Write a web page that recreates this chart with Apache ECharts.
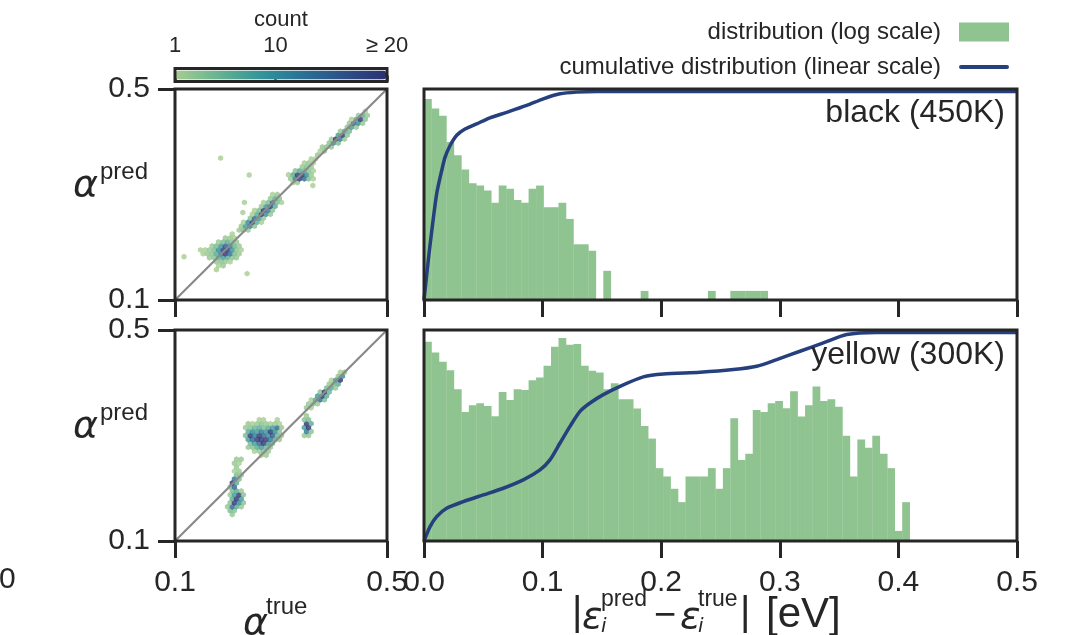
<!DOCTYPE html>
<html lang="en">
<head>
<meta charset="UTF-8">
<title>alpha parity and error distributions</title>
<style>
  html, body { margin: 0; padding: 0; background: #fff; }
  #chart { width: 1083px; height: 635px; }
</style>
</head>
<body>
<div id="chart"></div>
<script src="https://cdn.jsdelivr.net/npm/echarts@6/dist/echarts.min.js"></script>
<script>
const FONT = 'Liberation Sans, Arial, sans-serif';
const MATH = 'DejaVu Sans, sans-serif';
const INK = '#262626';
const GREEN = '#8fc390';
const NAVY = '#263f7d';
const crest = ['#a5cd90', '#79bb90', '#4fa693', '#31909a', '#2a7796', '#2a5f8e', '#2d4683', '#2c3172'];

const HIST = 'distribution (log scale)';
const CUM = 'cumulative distribution (linear scale)';

// axes
const alphaTicks = [0.1, 0.5];
const diagonal = [0.1, 0.5];
const countTicks = [1, 10, 20];

// histogram of |error| (bins of 0.0063 eV starting at 0)
const binWidth = 0.0063;
const blackCounts = [753, 545, 422, 171, 108, 66, 41, 38, 32, 21, 38, 34, 23, 21, 34, 38, 18, 18, 21, 12,
  5, 5, 4, 0, 2, 0, 0, 0, 0, 1, 0, 0, 0, 0, 0, 0, 0, 0, 1, 0, 0, 1, 1, 1, 1, 1];
const yellowCounts = [1376, 915, 640, 464, 224, 94, 121, 131, 118, 80, 202, 149, 224, 218, 316, 350, 548, 1137, 1585, 1227,
  1259, 548, 452, 424, 224, 282, 153, 153, 107, 55, 34, 11, 8, 5, 3, 8, 8, 8, 11, 5,
  11, 74, 15, 19, 101, 94, 131, 143, 108, 207, 79, 121, 248, 143, 153, 115, 38, 8, 33, 24,
  38, 19, 11, 1, 3];

// cumulative distribution
const blackCumE = [0, 0.0036, 0.0065, 0.0107, 0.0149, 0.0177, 0.0219, 0.0276, 0.0346, 0.0444, 0.0556, 0.0697, 0.0866, 0.1006, 0.1147, 0.1287, 0.146, 0.5];
const blackCumF = [0, 0.19, 0.33, 0.51, 0.62, 0.684, 0.74, 0.79, 0.82, 0.845, 0.874, 0.90, 0.933, 0.965, 0.989, 0.997, 1.0, 1.0];
const yellowCumE = [0, 0.0051, 0.0107, 0.0191, 0.0331, 0.05, 0.0669, 0.0837, 0.0978, 0.1062, 0.1147, 0.1231, 0.1315, 0.14, 0.1512, 0.1653, 0.1849, 0.2018, 0.2327, 0.2608, 0.2805, 0.2974, 0.317, 0.3367, 0.3564, 0.3817, 0.5];
const yellowCumF = [0, 0.069, 0.117, 0.157, 0.189, 0.221, 0.253, 0.293, 0.341, 0.389, 0.47, 0.55, 0.622, 0.662, 0.702, 0.742, 0.787, 0.801, 0.809, 0.822, 0.838, 0.87, 0.91, 0.95, 0.99, 1.0, 1.0];

// hexbin cells [alpha_true, alpha_pred, count]
const blackCells = [
  [0.165, 0.180, 2], [0.174, 0.180, 3], [0.182, 0.180, 5], [0.191, 0.180, 8], [0.199, 0.180, 6], [0.208, 0.180, 3], [0.216, 0.180, 2],
  [0.153, 0.1875, 1], [0.161, 0.1875, 2], [0.170, 0.1875, 3], [0.178, 0.1875, 6], [0.187, 0.1875, 12], [0.195, 0.1875, 20], [0.204, 0.1875, 14], [0.212, 0.1875, 4], [0.221, 0.1875, 2],
  [0.148, 0.195, 1], [0.157, 0.195, 1], [0.165, 0.195, 2], [0.174, 0.195, 4], [0.182, 0.195, 10], [0.191, 0.195, 20], [0.199, 0.195, 20], [0.208, 0.195, 9], [0.216, 0.195, 3], [0.225, 0.195, 1],
  [0.170, 0.2025, 2], [0.178, 0.2025, 4], [0.187, 0.2025, 9], [0.195, 0.2025, 16], [0.204, 0.2025, 12], [0.212, 0.2025, 5], [0.221, 0.2025, 2],
  [0.182, 0.210, 2], [0.191, 0.210, 4], [0.199, 0.210, 6], [0.208, 0.210, 3], [0.216, 0.210, 2],
  [0.195, 0.2175, 2], [0.204, 0.2175, 2], [0.212, 0.2175, 1], [0.208, 0.225, 1],
  [0.178, 0.1725, 2], [0.187, 0.1725, 3], [0.195, 0.1725, 2], [0.204, 0.1725, 1],
  [0.182, 0.165, 1], [0.191, 0.165, 2], [0.178, 0.1575, 1],
  [0.221, 0.2325, 2], [0.229, 0.2325, 3], [0.238, 0.2325, 2],
  [0.225, 0.240, 2], [0.233, 0.240, 8], [0.242, 0.240, 12], [0.250, 0.240, 3],
  [0.229, 0.2475, 1], [0.238, 0.2475, 10], [0.246, 0.2475, 20], [0.255, 0.2475, 6], [0.263, 0.2475, 1],
  [0.242, 0.255, 3], [0.250, 0.255, 14], [0.259, 0.255, 8], [0.267, 0.255, 2],
  [0.246, 0.2625, 1], [0.255, 0.2625, 6], [0.263, 0.2625, 20], [0.272, 0.2625, 10], [0.280, 0.2625, 2],
  [0.250, 0.270, 1], [0.259, 0.270, 4], [0.267, 0.270, 20], [0.276, 0.270, 12], [0.284, 0.270, 3],
  [0.263, 0.2775, 2], [0.272, 0.2775, 9], [0.280, 0.2775, 20], [0.289, 0.2775, 6],
  [0.267, 0.285, 1], [0.276, 0.285, 4], [0.284, 0.285, 14], [0.293, 0.285, 4], [0.301, 0.285, 1],
  [0.280, 0.2925, 2], [0.289, 0.2925, 6], [0.297, 0.2925, 3], [0.284, 0.300, 1], [0.293, 0.300, 2],
  [0.231, 0.285, 1], [0.228, 0.266, 1], [0.236, 0.150, 1], [0.186, 0.369, 1], [0.240, 0.337, 1], [0.117, 0.182, 1], [0.360, 0.317, 1],
  [0.323, 0.3225, 1], [0.331, 0.3225, 2],
  [0.318, 0.330, 2], [0.327, 0.330, 12], [0.335, 0.330, 20], [0.344, 0.330, 14], [0.352, 0.330, 4], [0.361, 0.330, 1],
  [0.314, 0.3375, 1], [0.323, 0.3375, 6], [0.331, 0.3375, 20], [0.340, 0.3375, 20], [0.348, 0.3375, 10], [0.357, 0.3375, 2],
  [0.327, 0.345, 3], [0.335, 0.345, 6], [0.344, 0.345, 5], [0.352, 0.345, 3], [0.361, 0.345, 1],
  [0.340, 0.3525, 2], [0.348, 0.3525, 3], [0.357, 0.3525, 2],
  [0.344, 0.360, 1], [0.352, 0.360, 2], [0.361, 0.360, 1], [0.357, 0.3675, 1], [0.365, 0.3675, 1], [0.369, 0.375, 2],
  [0.374, 0.3825, 1], [0.382, 0.3825, 2],
  [0.378, 0.390, 2], [0.386, 0.390, 3], [0.395, 0.390, 2],
  [0.391, 0.3975, 3], [0.399, 0.3975, 10], [0.408, 0.3975, 4],
  [0.395, 0.405, 2], [0.403, 0.405, 20], [0.412, 0.405, 12], [0.420, 0.405, 2],
  [0.408, 0.4125, 8], [0.416, 0.4125, 20], [0.425, 0.4125, 3],
  [0.412, 0.420, 2], [0.420, 0.420, 6], [0.429, 0.420, 4],
  [0.425, 0.4275, 3], [0.433, 0.4275, 8], [0.442, 0.4275, 2],
  [0.429, 0.435, 2], [0.437, 0.435, 14], [0.446, 0.435, 10], [0.454, 0.435, 2],
  [0.433, 0.4425, 1], [0.442, 0.4425, 6], [0.450, 0.4425, 20], [0.459, 0.4425, 3],
  [0.446, 0.450, 2], [0.454, 0.450, 6], [0.463, 0.450, 2], [0.459, 0.4575, 1]
];
const yellowCells = [
  [0.208, 0.150, 2], [0.204, 0.1575, 4], [0.212, 0.1575, 3],
  [0.199, 0.165, 2], [0.208, 0.165, 14], [0.216, 0.165, 6], [0.225, 0.165, 2],
  [0.204, 0.1725, 3], [0.212, 0.1725, 20], [0.221, 0.1725, 10], [0.229, 0.1725, 3],
  [0.208, 0.180, 6], [0.216, 0.180, 20], [0.225, 0.180, 8],
  [0.204, 0.1875, 2], [0.212, 0.1875, 8], [0.221, 0.1875, 20], [0.229, 0.1875, 3],
  [0.208, 0.195, 4], [0.216, 0.195, 6], [0.225, 0.195, 2],
  [0.204, 0.2025, 3], [0.212, 0.2025, 14], [0.208, 0.210, 20], [0.216, 0.210, 6],
  [0.212, 0.2175, 12], [0.221, 0.2175, 4], [0.216, 0.225, 4], [0.225, 0.225, 2],
  [0.212, 0.2325, 1], [0.221, 0.2325, 2], [0.216, 0.240, 2], [0.212, 0.2475, 2], [0.221, 0.2475, 1],
  [0.216, 0.255, 2], [0.225, 0.255, 2],
  [0.263, 0.2625, 1], [0.272, 0.2625, 2],
  [0.250, 0.270, 1], [0.259, 0.270, 2], [0.267, 0.270, 3], [0.276, 0.270, 2],
  [0.238, 0.2775, 2], [0.246, 0.2775, 3], [0.255, 0.2775, 6], [0.263, 0.2775, 8], [0.272, 0.2775, 5], [0.280, 0.2775, 2],
  [0.242, 0.285, 4], [0.250, 0.285, 8], [0.259, 0.285, 14], [0.267, 0.285, 20], [0.276, 0.285, 8], [0.284, 0.285, 4],
  [0.238, 0.2925, 8], [0.246, 0.2925, 14], [0.255, 0.2925, 20], [0.263, 0.2925, 20], [0.272, 0.2925, 20], [0.280, 0.2925, 12], [0.289, 0.2925, 6], [0.297, 0.2925, 2],
  [0.233, 0.300, 4], [0.242, 0.300, 20], [0.250, 0.300, 12], [0.259, 0.300, 20], [0.267, 0.300, 14], [0.276, 0.300, 10], [0.284, 0.300, 16], [0.293, 0.300, 5], [0.301, 0.300, 2],
  [0.238, 0.3075, 6], [0.246, 0.3075, 10], [0.255, 0.3075, 8], [0.263, 0.3075, 12], [0.272, 0.3075, 9], [0.280, 0.3075, 20], [0.289, 0.3075, 10], [0.297, 0.3075, 3],
  [0.233, 0.315, 2], [0.242, 0.315, 3], [0.250, 0.315, 5], [0.259, 0.315, 6], [0.267, 0.315, 4], [0.276, 0.315, 6], [0.284, 0.315, 8], [0.293, 0.315, 14], [0.301, 0.315, 2],
  [0.238, 0.3225, 2], [0.246, 0.3225, 1], [0.255, 0.3225, 2], [0.263, 0.3225, 3], [0.272, 0.3225, 2], [0.280, 0.3225, 1], [0.289, 0.3225, 2], [0.297, 0.3225, 1],
  [0.259, 0.330, 1], [0.267, 0.330, 1], [0.293, 0.330, 1],
  [0.344, 0.300, 2], [0.352, 0.300, 2], [0.348, 0.3075, 12], [0.357, 0.3075, 3],
  [0.344, 0.315, 8], [0.352, 0.315, 20], [0.348, 0.3225, 20], [0.357, 0.3225, 6],
  [0.344, 0.330, 3], [0.352, 0.330, 4], [0.348, 0.3375, 2],
  [0.348, 0.3525, 2], [0.357, 0.3525, 1],
  [0.352, 0.360, 2], [0.361, 0.360, 3], [0.369, 0.360, 2],
  [0.357, 0.3675, 1], [0.365, 0.3675, 6], [0.374, 0.3675, 14], [0.382, 0.3675, 4],
  [0.369, 0.375, 8], [0.378, 0.375, 20], [0.386, 0.375, 6],
  [0.374, 0.3825, 3], [0.382, 0.3825, 20], [0.391, 0.3825, 5],
  [0.386, 0.390, 4], [0.395, 0.390, 6], [0.403, 0.390, 2],
  [0.391, 0.3975, 2], [0.399, 0.3975, 4], [0.408, 0.3975, 6],
  [0.395, 0.405, 1], [0.403, 0.405, 8], [0.412, 0.405, 20],
  [0.408, 0.4125, 3], [0.416, 0.4125, 10], [0.412, 0.420, 1], [0.420, 0.420, 2]
];

function binRows(counts) {
  return counts.map((c, i) => [i * binWidth, (i + 1) * binWidth, c]).filter(d => d[2] > 0);
}
function pairs(xs, ys) {
  return xs.map((x, i) => [x, ys[i]]);
}

const HEX = 'path://M0,-1L0.866,-0.5L0.866,0.5L0,1L-0.866,0.5L-0.866,-0.5Z';

const L = 175, LW = 212, R = 424, RW = 593, T1 = 89, T2 = 330, H = 211;

const gridBase = { show: true, borderColor: INK, borderWidth: 3, backgroundColor: 'transparent', z: 5 };
const grids = [
  { left: L, top: T1, width: LW, height: H },
  { left: L, top: T2, width: LW, height: H },
  { left: R, top: T1, width: RW, height: H },
  { left: R, top: T2, width: RW, height: H },
  { left: 175, top: 68.5, width: 212, height: 13, borderWidth: 3 }
].map(g => Object.assign({}, gridBase, g));

const tick = { show: true, length: 17, lineStyle: { color: INK, width: 3 } };
const label = { color: INK, fontFamily: FONT, fontSize: 30 };

function alphaX(gridIndex, showLabel) {
  return {
    type: 'value', gridIndex, min: 0.1, max: 0.5,
    axisLine: { show: false }, splitLine: { show: false },
    axisTick: Object.assign({ customValues: alphaTicks }, tick),
    axisLabel: Object.assign({ show: showLabel, customValues: alphaTicks, margin: 27, formatter: v => v.toFixed(1) }, label)
  };
}
function alphaY(gridIndex) {
  return {
    type: 'value', gridIndex, min: 0.1, max: 0.5,
    axisLine: { show: false }, splitLine: { show: false },
    axisTick: Object.assign({ customValues: alphaTicks }, tick),
    axisLabel: Object.assign({ customValues: alphaTicks, margin: 25, formatter: v => v.toFixed(1) }, label)
  };
}
function errX(gridIndex, showLabel) {
  return {
    type: 'value', gridIndex, min: 0, max: 0.5, interval: 0.1,
    axisLine: { show: false }, splitLine: { show: false },
    axisTick: tick,
    axisLabel: Object.assign({ show: showLabel, margin: 27, formatter: v => v.toFixed(1) }, label)
  };
}

function histRender(params, api) {
  const c = api.value(2);
  const p0 = api.coord([api.value(0), c]);
  const p1 = api.coord([api.value(1), c]);
  const base = params.coordSys.y + params.coordSys.height;
  return {
    type: 'rect',
    shape: { x: p0[0], y: p0[1], width: p1[0] - p0[0] + 0.3, height: base - p0[1] },
    style: { fill: GREEN }
  };
}

function txt(x, y, s, size, extra) {
  return {
    type: 'text', x, y, z: 10,
    style: Object.assign({ text: s, fontSize: size, fontFamily: FONT, fill: INK, align: 'left', verticalAlign: 'middle' }, extra || {})
  };
}
const it = { fontFamily: MATH, fontStyle: 'italic' };

const chart = echarts.init(document.getElementById('chart'));
chart.setOption({
  animation: false,
  backgroundColor: '#fff',
  grid: grids,
  xAxis: [
    alphaX(0, false), alphaX(1, true), errX(2, false), errX(3, true),
    {
      type: 'value', gridIndex: 4, min: 1, max: 20, position: 'top',
      axisLine: { show: false }, splitLine: { show: false },
      axisTick: { customValues: countTicks, length: 6, lineStyle: { color: INK, width: 2.5 } },
      axisLabel: { customValues: countTicks, margin: 12, color: INK, fontFamily: FONT, fontSize: 22,
        formatter: v => (v === 20 ? '\u2265 20' : String(v)) },
      name: 'count', nameLocation: 'middle', nameGap: 38,
      nameTextStyle: { color: INK, fontFamily: FONT, fontSize: 22 }
    }
  ],
  yAxis: [
    alphaY(0), alphaY(1),
    { type: 'log', gridIndex: 2, min: 0.73, max: 1067, show: false },
    { type: 'log', gridIndex: 3, min: 0.68, max: 2154, show: false },
    { type: 'value', gridIndex: 2, min: 0, max: 1.012, show: false },
    { type: 'value', gridIndex: 3, min: 0, max: 1.012, show: false },
    { type: 'value', gridIndex: 4, min: 0, max: 1, show: false }
  ],
  visualMap: {
    type: 'continuous', min: 1, max: 20, dimension: 2, seriesIndex: [0, 1],
    orient: 'horizontal', left: 176, top: 70.5, itemWidth: 9, itemHeight: 210, padding: 0,
    calculable: false, hoverLink: false, inRange: { color: crest }
  },
  legend: {
    orient: 'vertical', right: 69, top: 15, align: 'right', selectedMode: false,
    itemWidth: 50, itemHeight: 19, itemGap: 11,
    textStyle: { color: INK, fontFamily: FONT, fontSize: 24, padding: [0, 13, 0, 0] },
    data: [{ name: HIST, icon: 'rect' }, { name: CUM, icon: 'path://M2,0H48A2,2,0,0,1,48,4H2A2,2,0,0,1,2,0Z' }]
  },
  series: [
    { type: 'scatter', xAxisIndex: 0, yAxisIndex: 0, data: blackCells, symbol: HEX, symbolSize: [5.2, 5.9],
      emphasis: { disabled: true }, z: 2 },
    { type: 'scatter', xAxisIndex: 1, yAxisIndex: 1, data: yellowCells, symbol: HEX, symbolSize: [5.2, 5.9],
      emphasis: { disabled: true }, z: 2 },
    { type: 'line', xAxisIndex: 0, yAxisIndex: 0, data: diagonal.map(v => [v, v]), symbol: 'none',
      lineStyle: { color: '#8a8a8a', width: 2.2 }, z: 3 },
    { type: 'line', xAxisIndex: 1, yAxisIndex: 1, data: diagonal.map(v => [v, v]), symbol: 'none',
      lineStyle: { color: '#8a8a8a', width: 2.2 }, z: 3 },
    { type: 'custom', name: HIST, xAxisIndex: 2, yAxisIndex: 2, data: binRows(blackCounts),
      encode: { x: [0, 1], y: 2 }, renderItem: histRender, itemStyle: { color: GREEN }, z: 2 },
    { type: 'custom', name: HIST, xAxisIndex: 3, yAxisIndex: 3, data: binRows(yellowCounts),
      encode: { x: [0, 1], y: 2 }, renderItem: histRender, itemStyle: { color: GREEN }, z: 2 },
    { type: 'line', name: CUM, xAxisIndex: 2, yAxisIndex: 4, data: pairs(blackCumE, blackCumF),
      symbol: 'none', smooth: 0.25, lineStyle: { color: NAVY, width: 3.5 }, itemStyle: { color: NAVY }, z: 3 },
    { type: 'line', name: CUM, xAxisIndex: 3, yAxisIndex: 5, data: pairs(yellowCumE, yellowCumF),
      symbol: 'none', smooth: 0.25, lineStyle: { color: NAVY, width: 3.5 }, itemStyle: { color: NAVY }, z: 3 }
  ],
  graphic: [
    txt(1005, 113, 'black (450K)', 32, { align: 'right' }),
    txt(1005, 355, 'yellow (300K)', 32, { align: 'right' }),
    // alpha^pred labels
    txt(73, 186, '\u03b1', 38, it), txt(100, 172, 'pred', 24),
    txt(73, 427, '\u03b1', 38, it), txt(100, 413, 'pred', 24),
    // alpha^true
    txt(243, 624, '\u03b1', 38, it), txt(266, 607, 'true', 24),
    // |eps_i^pred - eps_i^true| [eV]
    txt(572, 614, '|', 40), txt(582, 618, '\u03b5', 38, it),
    txt(601, 600, 'pred', 23), txt(601, 627, 'i', 20, it),
    txt(654, 617, '\u2212', 38),
    txt(680, 618, '\u03b5', 38, it),
    txt(698, 600, 'true', 23), txt(698, 627, 'i', 20, it),
    txt(740, 614, '|', 40),
    txt(766, 615, '[eV]', 42),
    txt(-1, 580, '0', 30)
  ]
});
</script>
</body>
</html>
